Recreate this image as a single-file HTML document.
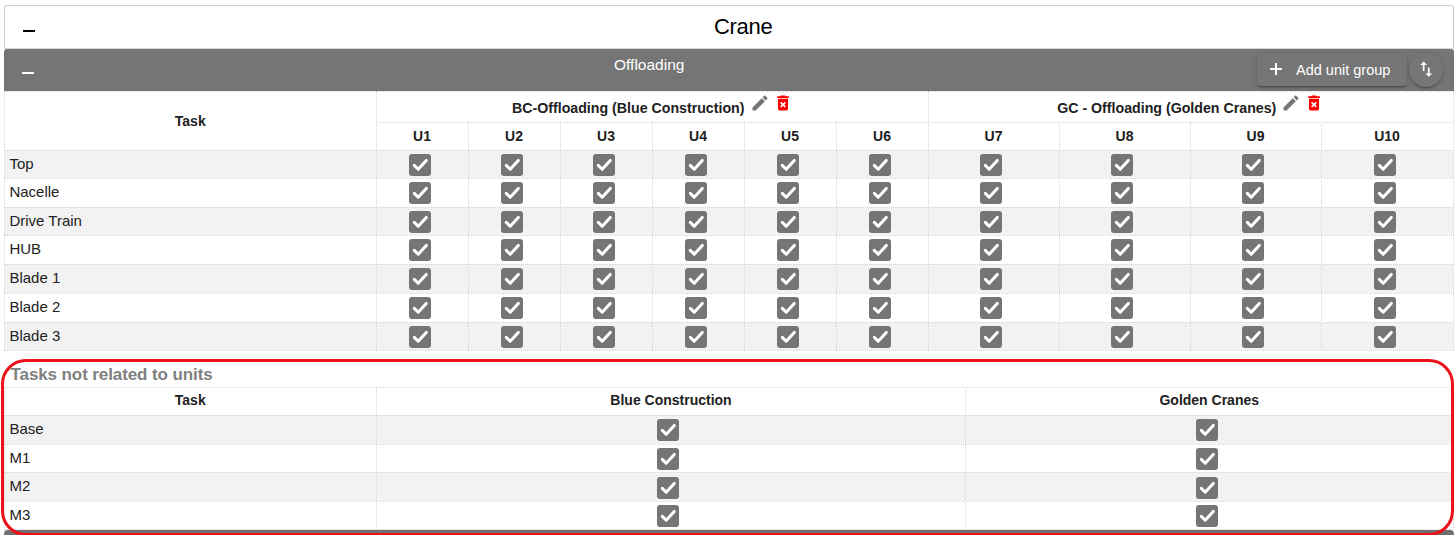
<!DOCTYPE html>
<html><head><meta charset="utf-8"><style>
*{box-sizing:border-box}
html,body{margin:0;padding:0;background:#fff;width:1455px;height:535px;overflow:hidden;position:relative;font-family:"Liberation Sans", sans-serif;color:#212121}
div,svg{position:absolute}
#card{left:4px;top:5px;width:1450px;height:44px;border:1px solid #cfcfcf;border-right-color:#c2c2c2;border-bottom-color:#d8d8d8;border-radius:3px 3px 1.5px 1.5px;background:#fff}
.minus{width:12px;height:2px}
#crane{left:714px;top:11px;font-size:22px;letter-spacing:-0.3px;line-height:32px;white-space:nowrap;color:#000}
#bar{left:4px;top:49px;width:1450px;height:42px;background:#757575;border-radius:3px 3px 0 0}
#offl{left:614px;top:56px;font-size:15.5px;line-height:18px;color:#fff;white-space:nowrap}
#addbtn{left:1257px;top:54px;width:150px;height:32px;border-radius:4px;background:#767676;box-shadow:0 3px 1px -2px rgba(0,0,0,.2),0 2px 2px 0 rgba(0,0,0,.14),0 1px 5px 0 rgba(0,0,0,.12)}
#plus{position:absolute;left:13px;top:9px;width:12px;height:12px;
  background:linear-gradient(#fff,#fff) center/2px 12px no-repeat, linear-gradient(#fff,#fff) center/12px 2px no-repeat}
#addtxt{position:absolute;left:39px;top:7px;font-size:14.5px;line-height:18px;color:#fff;white-space:nowrap}
#swapbtn{left:1409px;top:53px;width:34px;height:34px;border-radius:50%;background:#767676;box-shadow:0 3px 1px -2px rgba(0,0,0,.2),0 2px 2px 0 rgba(0,0,0,.14),0 1px 5px 0 rgba(0,0,0,.12)}
.stripe{left:4px;width:1450px;background:#f2f2f2}
.hl{height:0;border-top:1px dotted #d6d6d6}
.vl{width:0;border-left:1px dotted #d6d6d6}
.th{font-weight:bold;font-size:14px;text-align:center;white-space:nowrap}
.grp{top:92.5px;height:31px;line-height:31px;font-weight:bold;font-size:14.2px;text-align:center;white-space:nowrap}
.grp .ic{position:relative;display:inline-block;vertical-align:top;top:0.5px}
.grp .ic:first-of-type{margin-left:5px}
.grp .ic+.ic{margin-left:3px}
.td{left:9.4px;font-size:15px;line-height:20px;white-space:nowrap}
.cb{position:absolute}
#t2title{left:10.5px;top:362.5px;font-size:17px;letter-spacing:-0.1px;line-height:24px;font-weight:bold;color:#808080;white-space:nowrap}
#bar2{left:4px;top:529.5px;width:1450px;height:10px;background:#707070;border-radius:4px 4px 0 0}
#red{left:1px;top:358.5px;width:1453px;height:177px;border:3px solid #ec111a;border-radius:25px}
</style></head>
<body>
<div id="card"></div><div class="minus" style="left:23px;top:30px;background:#000"></div><div id="crane">Crane</div><div id="bar"></div><div class="minus" style="left:22px;top:72px;background:#fff"></div><div id="offl">Offloading</div><div id="addbtn"><span id="plus"></span><span id="addtxt">Add unit group</span></div><div id="swapbtn"><svg width="20.4" height="20.4" viewBox="0 0 24 24" style="position:absolute;left:7.3px;top:6px"><path fill="#fff" d="M16 17.01V10h-2v7.01h-3L15 21l4-3.99h-3zM9 3L5 6.99h3V14h2V6.99h3L9 3z"/></svg></div><div class="stripe" style="top:150.00px;height:28.00px"></div><div class="stripe" style="top:207.00px;height:28.00px"></div><div class="stripe" style="top:264.00px;height:29.00px"></div><div class="stripe" style="top:322.00px;height:28.00px"></div><div class="hl" style="left:4px;top:91.00px;width:1450px"></div><div class="hl" style="left:376px;top:122.00px;width:1078px"></div><div class="hl" style="left:4px;top:150.00px;width:1450px"></div><div class="hl" style="left:4px;top:178.00px;width:1450px"></div><div class="hl" style="left:4px;top:207.00px;width:1450px"></div><div class="hl" style="left:4px;top:235.00px;width:1450px"></div><div class="hl" style="left:4px;top:264.00px;width:1450px"></div><div class="hl" style="left:4px;top:293.00px;width:1450px"></div><div class="hl" style="left:4px;top:322.00px;width:1450px"></div><div class="hl" style="left:4px;top:350.00px;width:1450px"></div><div class="vl" style="left:4px;top:91.00px;height:260.00px"></div><div class="vl" style="left:376px;top:91.00px;height:260.00px"></div><div class="vl" style="left:468px;top:122.00px;height:229.00px"></div><div class="vl" style="left:560px;top:122.00px;height:229.00px"></div><div class="vl" style="left:652px;top:122.00px;height:229.00px"></div><div class="vl" style="left:744px;top:122.00px;height:229.00px"></div><div class="vl" style="left:836px;top:122.00px;height:229.00px"></div><div class="vl" style="left:928px;top:91.00px;height:260.00px"></div><div class="vl" style="left:1059px;top:122.00px;height:229.00px"></div><div class="vl" style="left:1190px;top:122.00px;height:229.00px"></div><div class="vl" style="left:1321px;top:122.00px;height:229.00px"></div><div class="vl" style="left:1453px;top:91.00px;height:260.00px"></div><div class="th" style="left:4px;width:372.5px;top:91.7px;height:59px;line-height:59px">Task</div><div class="grp" style="left:376.5px;width:551.5px;">BC-Offloading (Blue Construction)<svg class="ic" width="20" height="20" viewBox="0 0 24 24"><path fill="#757575" d="M3 17.25V21h3.75L17.81 9.94l-3.75-3.75L3 17.25zM20.71 7.04c.39-.39.39-1.02 0-1.41l-2.34-2.34c-.39-.39-1.02-.39-1.41 0l-1.83 1.83 3.75 3.75 1.83-1.83z"/></svg><svg class="ic" width="20" height="20" viewBox="0 0 24 24"><path fill="#ff0000" d="M6 19c0 1.1.9 2 2 2h8c1.1 0 2-.9 2-2V7H6v12zm2.46-7.12l1.41-1.41L12 12.59l2.12-2.12 1.41 1.41L13.41 14l2.12 2.12-1.41 1.41L12 15.41l-2.12 2.12-1.41-1.41L10.59 14l-2.13-2.12zM15.5 4l-1-1h-5l-1 1H5v2h14V4z"/></svg></div><div class="grp" style="left:928.5px;width:524.5px;">GC - Offloading (Golden Cranes)<svg class="ic" width="20" height="20" viewBox="0 0 24 24"><path fill="#757575" d="M3 17.25V21h3.75L17.81 9.94l-3.75-3.75L3 17.25zM20.71 7.04c.39-.39.39-1.02 0-1.41l-2.34-2.34c-.39-.39-1.02-.39-1.41 0l-1.83 1.83 3.75 3.75 1.83-1.83z"/></svg><svg class="ic" width="20" height="20" viewBox="0 0 24 24"><path fill="#ff0000" d="M6 19c0 1.1.9 2 2 2h8c1.1 0 2-.9 2-2V7H6v12zm2.46-7.12l1.41-1.41L12 12.59l2.12-2.12 1.41 1.41L13.41 14l2.12 2.12-1.41 1.41L12 15.41l-2.12 2.12-1.41-1.41L10.59 14l-2.13-2.12zM15.5 4l-1-1h-5l-1 1H5v2h14V4z"/></svg></div><div class="th" style="left:376px;width:92px;top:122px;height:28px;line-height:28px">U1</div><div class="th" style="left:468px;width:92px;top:122px;height:28px;line-height:28px">U2</div><div class="th" style="left:560px;width:92px;top:122px;height:28px;line-height:28px">U3</div><div class="th" style="left:652px;width:92px;top:122px;height:28px;line-height:28px">U4</div><div class="th" style="left:744px;width:92px;top:122px;height:28px;line-height:28px">U5</div><div class="th" style="left:836px;width:92px;top:122px;height:28px;line-height:28px">U6</div><div class="th" style="left:928px;width:131px;top:122px;height:28px;line-height:28px">U7</div><div class="th" style="left:1059px;width:131px;top:122px;height:28px;line-height:28px">U8</div><div class="th" style="left:1190px;width:131px;top:122px;height:28px;line-height:28px">U9</div><div class="th" style="left:1321px;width:132px;top:122px;height:28px;line-height:28px">U10</div><div class="td" style="top:154.00px">Top</div><svg class="cb" style="left:408.50px;top:154.00px" width="22" height="22" viewBox="0 0 22 22"><rect x="0" y="0" width="22" height="22" rx="3" fill="#757575"/><polyline points="5.3,11.4 9.2,15.3 17.3,6.4" fill="none" stroke="#fff" stroke-width="3" stroke-linecap="round" stroke-linejoin="round"/></svg><svg class="cb" style="left:500.50px;top:154.00px" width="22" height="22" viewBox="0 0 22 22"><rect x="0" y="0" width="22" height="22" rx="3" fill="#757575"/><polyline points="5.3,11.4 9.2,15.3 17.3,6.4" fill="none" stroke="#fff" stroke-width="3" stroke-linecap="round" stroke-linejoin="round"/></svg><svg class="cb" style="left:592.50px;top:154.00px" width="22" height="22" viewBox="0 0 22 22"><rect x="0" y="0" width="22" height="22" rx="3" fill="#757575"/><polyline points="5.3,11.4 9.2,15.3 17.3,6.4" fill="none" stroke="#fff" stroke-width="3" stroke-linecap="round" stroke-linejoin="round"/></svg><svg class="cb" style="left:684.50px;top:154.00px" width="22" height="22" viewBox="0 0 22 22"><rect x="0" y="0" width="22" height="22" rx="3" fill="#757575"/><polyline points="5.3,11.4 9.2,15.3 17.3,6.4" fill="none" stroke="#fff" stroke-width="3" stroke-linecap="round" stroke-linejoin="round"/></svg><svg class="cb" style="left:776.50px;top:154.00px" width="22" height="22" viewBox="0 0 22 22"><rect x="0" y="0" width="22" height="22" rx="3" fill="#757575"/><polyline points="5.3,11.4 9.2,15.3 17.3,6.4" fill="none" stroke="#fff" stroke-width="3" stroke-linecap="round" stroke-linejoin="round"/></svg><svg class="cb" style="left:868.50px;top:154.00px" width="22" height="22" viewBox="0 0 22 22"><rect x="0" y="0" width="22" height="22" rx="3" fill="#757575"/><polyline points="5.3,11.4 9.2,15.3 17.3,6.4" fill="none" stroke="#fff" stroke-width="3" stroke-linecap="round" stroke-linejoin="round"/></svg><svg class="cb" style="left:980.00px;top:154.00px" width="22" height="22" viewBox="0 0 22 22"><rect x="0" y="0" width="22" height="22" rx="3" fill="#757575"/><polyline points="5.3,11.4 9.2,15.3 17.3,6.4" fill="none" stroke="#fff" stroke-width="3" stroke-linecap="round" stroke-linejoin="round"/></svg><svg class="cb" style="left:1111.00px;top:154.00px" width="22" height="22" viewBox="0 0 22 22"><rect x="0" y="0" width="22" height="22" rx="3" fill="#757575"/><polyline points="5.3,11.4 9.2,15.3 17.3,6.4" fill="none" stroke="#fff" stroke-width="3" stroke-linecap="round" stroke-linejoin="round"/></svg><svg class="cb" style="left:1242.00px;top:154.00px" width="22" height="22" viewBox="0 0 22 22"><rect x="0" y="0" width="22" height="22" rx="3" fill="#757575"/><polyline points="5.3,11.4 9.2,15.3 17.3,6.4" fill="none" stroke="#fff" stroke-width="3" stroke-linecap="round" stroke-linejoin="round"/></svg><svg class="cb" style="left:1373.50px;top:154.00px" width="22" height="22" viewBox="0 0 22 22"><rect x="0" y="0" width="22" height="22" rx="3" fill="#757575"/><polyline points="5.3,11.4 9.2,15.3 17.3,6.4" fill="none" stroke="#fff" stroke-width="3" stroke-linecap="round" stroke-linejoin="round"/></svg><div class="td" style="top:182.00px">Nacelle</div><svg class="cb" style="left:408.50px;top:182.00px" width="22" height="22" viewBox="0 0 22 22"><rect x="0" y="0" width="22" height="22" rx="3" fill="#757575"/><polyline points="5.3,11.4 9.2,15.3 17.3,6.4" fill="none" stroke="#fff" stroke-width="3" stroke-linecap="round" stroke-linejoin="round"/></svg><svg class="cb" style="left:500.50px;top:182.00px" width="22" height="22" viewBox="0 0 22 22"><rect x="0" y="0" width="22" height="22" rx="3" fill="#757575"/><polyline points="5.3,11.4 9.2,15.3 17.3,6.4" fill="none" stroke="#fff" stroke-width="3" stroke-linecap="round" stroke-linejoin="round"/></svg><svg class="cb" style="left:592.50px;top:182.00px" width="22" height="22" viewBox="0 0 22 22"><rect x="0" y="0" width="22" height="22" rx="3" fill="#757575"/><polyline points="5.3,11.4 9.2,15.3 17.3,6.4" fill="none" stroke="#fff" stroke-width="3" stroke-linecap="round" stroke-linejoin="round"/></svg><svg class="cb" style="left:684.50px;top:182.00px" width="22" height="22" viewBox="0 0 22 22"><rect x="0" y="0" width="22" height="22" rx="3" fill="#757575"/><polyline points="5.3,11.4 9.2,15.3 17.3,6.4" fill="none" stroke="#fff" stroke-width="3" stroke-linecap="round" stroke-linejoin="round"/></svg><svg class="cb" style="left:776.50px;top:182.00px" width="22" height="22" viewBox="0 0 22 22"><rect x="0" y="0" width="22" height="22" rx="3" fill="#757575"/><polyline points="5.3,11.4 9.2,15.3 17.3,6.4" fill="none" stroke="#fff" stroke-width="3" stroke-linecap="round" stroke-linejoin="round"/></svg><svg class="cb" style="left:868.50px;top:182.00px" width="22" height="22" viewBox="0 0 22 22"><rect x="0" y="0" width="22" height="22" rx="3" fill="#757575"/><polyline points="5.3,11.4 9.2,15.3 17.3,6.4" fill="none" stroke="#fff" stroke-width="3" stroke-linecap="round" stroke-linejoin="round"/></svg><svg class="cb" style="left:980.00px;top:182.00px" width="22" height="22" viewBox="0 0 22 22"><rect x="0" y="0" width="22" height="22" rx="3" fill="#757575"/><polyline points="5.3,11.4 9.2,15.3 17.3,6.4" fill="none" stroke="#fff" stroke-width="3" stroke-linecap="round" stroke-linejoin="round"/></svg><svg class="cb" style="left:1111.00px;top:182.00px" width="22" height="22" viewBox="0 0 22 22"><rect x="0" y="0" width="22" height="22" rx="3" fill="#757575"/><polyline points="5.3,11.4 9.2,15.3 17.3,6.4" fill="none" stroke="#fff" stroke-width="3" stroke-linecap="round" stroke-linejoin="round"/></svg><svg class="cb" style="left:1242.00px;top:182.00px" width="22" height="22" viewBox="0 0 22 22"><rect x="0" y="0" width="22" height="22" rx="3" fill="#757575"/><polyline points="5.3,11.4 9.2,15.3 17.3,6.4" fill="none" stroke="#fff" stroke-width="3" stroke-linecap="round" stroke-linejoin="round"/></svg><svg class="cb" style="left:1373.50px;top:182.00px" width="22" height="22" viewBox="0 0 22 22"><rect x="0" y="0" width="22" height="22" rx="3" fill="#757575"/><polyline points="5.3,11.4 9.2,15.3 17.3,6.4" fill="none" stroke="#fff" stroke-width="3" stroke-linecap="round" stroke-linejoin="round"/></svg><div class="td" style="top:211.00px">Drive Train</div><svg class="cb" style="left:408.50px;top:211.00px" width="22" height="22" viewBox="0 0 22 22"><rect x="0" y="0" width="22" height="22" rx="3" fill="#757575"/><polyline points="5.3,11.4 9.2,15.3 17.3,6.4" fill="none" stroke="#fff" stroke-width="3" stroke-linecap="round" stroke-linejoin="round"/></svg><svg class="cb" style="left:500.50px;top:211.00px" width="22" height="22" viewBox="0 0 22 22"><rect x="0" y="0" width="22" height="22" rx="3" fill="#757575"/><polyline points="5.3,11.4 9.2,15.3 17.3,6.4" fill="none" stroke="#fff" stroke-width="3" stroke-linecap="round" stroke-linejoin="round"/></svg><svg class="cb" style="left:592.50px;top:211.00px" width="22" height="22" viewBox="0 0 22 22"><rect x="0" y="0" width="22" height="22" rx="3" fill="#757575"/><polyline points="5.3,11.4 9.2,15.3 17.3,6.4" fill="none" stroke="#fff" stroke-width="3" stroke-linecap="round" stroke-linejoin="round"/></svg><svg class="cb" style="left:684.50px;top:211.00px" width="22" height="22" viewBox="0 0 22 22"><rect x="0" y="0" width="22" height="22" rx="3" fill="#757575"/><polyline points="5.3,11.4 9.2,15.3 17.3,6.4" fill="none" stroke="#fff" stroke-width="3" stroke-linecap="round" stroke-linejoin="round"/></svg><svg class="cb" style="left:776.50px;top:211.00px" width="22" height="22" viewBox="0 0 22 22"><rect x="0" y="0" width="22" height="22" rx="3" fill="#757575"/><polyline points="5.3,11.4 9.2,15.3 17.3,6.4" fill="none" stroke="#fff" stroke-width="3" stroke-linecap="round" stroke-linejoin="round"/></svg><svg class="cb" style="left:868.50px;top:211.00px" width="22" height="22" viewBox="0 0 22 22"><rect x="0" y="0" width="22" height="22" rx="3" fill="#757575"/><polyline points="5.3,11.4 9.2,15.3 17.3,6.4" fill="none" stroke="#fff" stroke-width="3" stroke-linecap="round" stroke-linejoin="round"/></svg><svg class="cb" style="left:980.00px;top:211.00px" width="22" height="22" viewBox="0 0 22 22"><rect x="0" y="0" width="22" height="22" rx="3" fill="#757575"/><polyline points="5.3,11.4 9.2,15.3 17.3,6.4" fill="none" stroke="#fff" stroke-width="3" stroke-linecap="round" stroke-linejoin="round"/></svg><svg class="cb" style="left:1111.00px;top:211.00px" width="22" height="22" viewBox="0 0 22 22"><rect x="0" y="0" width="22" height="22" rx="3" fill="#757575"/><polyline points="5.3,11.4 9.2,15.3 17.3,6.4" fill="none" stroke="#fff" stroke-width="3" stroke-linecap="round" stroke-linejoin="round"/></svg><svg class="cb" style="left:1242.00px;top:211.00px" width="22" height="22" viewBox="0 0 22 22"><rect x="0" y="0" width="22" height="22" rx="3" fill="#757575"/><polyline points="5.3,11.4 9.2,15.3 17.3,6.4" fill="none" stroke="#fff" stroke-width="3" stroke-linecap="round" stroke-linejoin="round"/></svg><svg class="cb" style="left:1373.50px;top:211.00px" width="22" height="22" viewBox="0 0 22 22"><rect x="0" y="0" width="22" height="22" rx="3" fill="#757575"/><polyline points="5.3,11.4 9.2,15.3 17.3,6.4" fill="none" stroke="#fff" stroke-width="3" stroke-linecap="round" stroke-linejoin="round"/></svg><div class="td" style="top:239.00px">HUB</div><svg class="cb" style="left:408.50px;top:239.00px" width="22" height="22" viewBox="0 0 22 22"><rect x="0" y="0" width="22" height="22" rx="3" fill="#757575"/><polyline points="5.3,11.4 9.2,15.3 17.3,6.4" fill="none" stroke="#fff" stroke-width="3" stroke-linecap="round" stroke-linejoin="round"/></svg><svg class="cb" style="left:500.50px;top:239.00px" width="22" height="22" viewBox="0 0 22 22"><rect x="0" y="0" width="22" height="22" rx="3" fill="#757575"/><polyline points="5.3,11.4 9.2,15.3 17.3,6.4" fill="none" stroke="#fff" stroke-width="3" stroke-linecap="round" stroke-linejoin="round"/></svg><svg class="cb" style="left:592.50px;top:239.00px" width="22" height="22" viewBox="0 0 22 22"><rect x="0" y="0" width="22" height="22" rx="3" fill="#757575"/><polyline points="5.3,11.4 9.2,15.3 17.3,6.4" fill="none" stroke="#fff" stroke-width="3" stroke-linecap="round" stroke-linejoin="round"/></svg><svg class="cb" style="left:684.50px;top:239.00px" width="22" height="22" viewBox="0 0 22 22"><rect x="0" y="0" width="22" height="22" rx="3" fill="#757575"/><polyline points="5.3,11.4 9.2,15.3 17.3,6.4" fill="none" stroke="#fff" stroke-width="3" stroke-linecap="round" stroke-linejoin="round"/></svg><svg class="cb" style="left:776.50px;top:239.00px" width="22" height="22" viewBox="0 0 22 22"><rect x="0" y="0" width="22" height="22" rx="3" fill="#757575"/><polyline points="5.3,11.4 9.2,15.3 17.3,6.4" fill="none" stroke="#fff" stroke-width="3" stroke-linecap="round" stroke-linejoin="round"/></svg><svg class="cb" style="left:868.50px;top:239.00px" width="22" height="22" viewBox="0 0 22 22"><rect x="0" y="0" width="22" height="22" rx="3" fill="#757575"/><polyline points="5.3,11.4 9.2,15.3 17.3,6.4" fill="none" stroke="#fff" stroke-width="3" stroke-linecap="round" stroke-linejoin="round"/></svg><svg class="cb" style="left:980.00px;top:239.00px" width="22" height="22" viewBox="0 0 22 22"><rect x="0" y="0" width="22" height="22" rx="3" fill="#757575"/><polyline points="5.3,11.4 9.2,15.3 17.3,6.4" fill="none" stroke="#fff" stroke-width="3" stroke-linecap="round" stroke-linejoin="round"/></svg><svg class="cb" style="left:1111.00px;top:239.00px" width="22" height="22" viewBox="0 0 22 22"><rect x="0" y="0" width="22" height="22" rx="3" fill="#757575"/><polyline points="5.3,11.4 9.2,15.3 17.3,6.4" fill="none" stroke="#fff" stroke-width="3" stroke-linecap="round" stroke-linejoin="round"/></svg><svg class="cb" style="left:1242.00px;top:239.00px" width="22" height="22" viewBox="0 0 22 22"><rect x="0" y="0" width="22" height="22" rx="3" fill="#757575"/><polyline points="5.3,11.4 9.2,15.3 17.3,6.4" fill="none" stroke="#fff" stroke-width="3" stroke-linecap="round" stroke-linejoin="round"/></svg><svg class="cb" style="left:1373.50px;top:239.00px" width="22" height="22" viewBox="0 0 22 22"><rect x="0" y="0" width="22" height="22" rx="3" fill="#757575"/><polyline points="5.3,11.4 9.2,15.3 17.3,6.4" fill="none" stroke="#fff" stroke-width="3" stroke-linecap="round" stroke-linejoin="round"/></svg><div class="td" style="top:268.00px">Blade 1</div><svg class="cb" style="left:408.50px;top:268.00px" width="22" height="22" viewBox="0 0 22 22"><rect x="0" y="0" width="22" height="22" rx="3" fill="#757575"/><polyline points="5.3,11.4 9.2,15.3 17.3,6.4" fill="none" stroke="#fff" stroke-width="3" stroke-linecap="round" stroke-linejoin="round"/></svg><svg class="cb" style="left:500.50px;top:268.00px" width="22" height="22" viewBox="0 0 22 22"><rect x="0" y="0" width="22" height="22" rx="3" fill="#757575"/><polyline points="5.3,11.4 9.2,15.3 17.3,6.4" fill="none" stroke="#fff" stroke-width="3" stroke-linecap="round" stroke-linejoin="round"/></svg><svg class="cb" style="left:592.50px;top:268.00px" width="22" height="22" viewBox="0 0 22 22"><rect x="0" y="0" width="22" height="22" rx="3" fill="#757575"/><polyline points="5.3,11.4 9.2,15.3 17.3,6.4" fill="none" stroke="#fff" stroke-width="3" stroke-linecap="round" stroke-linejoin="round"/></svg><svg class="cb" style="left:684.50px;top:268.00px" width="22" height="22" viewBox="0 0 22 22"><rect x="0" y="0" width="22" height="22" rx="3" fill="#757575"/><polyline points="5.3,11.4 9.2,15.3 17.3,6.4" fill="none" stroke="#fff" stroke-width="3" stroke-linecap="round" stroke-linejoin="round"/></svg><svg class="cb" style="left:776.50px;top:268.00px" width="22" height="22" viewBox="0 0 22 22"><rect x="0" y="0" width="22" height="22" rx="3" fill="#757575"/><polyline points="5.3,11.4 9.2,15.3 17.3,6.4" fill="none" stroke="#fff" stroke-width="3" stroke-linecap="round" stroke-linejoin="round"/></svg><svg class="cb" style="left:868.50px;top:268.00px" width="22" height="22" viewBox="0 0 22 22"><rect x="0" y="0" width="22" height="22" rx="3" fill="#757575"/><polyline points="5.3,11.4 9.2,15.3 17.3,6.4" fill="none" stroke="#fff" stroke-width="3" stroke-linecap="round" stroke-linejoin="round"/></svg><svg class="cb" style="left:980.00px;top:268.00px" width="22" height="22" viewBox="0 0 22 22"><rect x="0" y="0" width="22" height="22" rx="3" fill="#757575"/><polyline points="5.3,11.4 9.2,15.3 17.3,6.4" fill="none" stroke="#fff" stroke-width="3" stroke-linecap="round" stroke-linejoin="round"/></svg><svg class="cb" style="left:1111.00px;top:268.00px" width="22" height="22" viewBox="0 0 22 22"><rect x="0" y="0" width="22" height="22" rx="3" fill="#757575"/><polyline points="5.3,11.4 9.2,15.3 17.3,6.4" fill="none" stroke="#fff" stroke-width="3" stroke-linecap="round" stroke-linejoin="round"/></svg><svg class="cb" style="left:1242.00px;top:268.00px" width="22" height="22" viewBox="0 0 22 22"><rect x="0" y="0" width="22" height="22" rx="3" fill="#757575"/><polyline points="5.3,11.4 9.2,15.3 17.3,6.4" fill="none" stroke="#fff" stroke-width="3" stroke-linecap="round" stroke-linejoin="round"/></svg><svg class="cb" style="left:1373.50px;top:268.00px" width="22" height="22" viewBox="0 0 22 22"><rect x="0" y="0" width="22" height="22" rx="3" fill="#757575"/><polyline points="5.3,11.4 9.2,15.3 17.3,6.4" fill="none" stroke="#fff" stroke-width="3" stroke-linecap="round" stroke-linejoin="round"/></svg><div class="td" style="top:297.00px">Blade 2</div><svg class="cb" style="left:408.50px;top:297.00px" width="22" height="22" viewBox="0 0 22 22"><rect x="0" y="0" width="22" height="22" rx="3" fill="#757575"/><polyline points="5.3,11.4 9.2,15.3 17.3,6.4" fill="none" stroke="#fff" stroke-width="3" stroke-linecap="round" stroke-linejoin="round"/></svg><svg class="cb" style="left:500.50px;top:297.00px" width="22" height="22" viewBox="0 0 22 22"><rect x="0" y="0" width="22" height="22" rx="3" fill="#757575"/><polyline points="5.3,11.4 9.2,15.3 17.3,6.4" fill="none" stroke="#fff" stroke-width="3" stroke-linecap="round" stroke-linejoin="round"/></svg><svg class="cb" style="left:592.50px;top:297.00px" width="22" height="22" viewBox="0 0 22 22"><rect x="0" y="0" width="22" height="22" rx="3" fill="#757575"/><polyline points="5.3,11.4 9.2,15.3 17.3,6.4" fill="none" stroke="#fff" stroke-width="3" stroke-linecap="round" stroke-linejoin="round"/></svg><svg class="cb" style="left:684.50px;top:297.00px" width="22" height="22" viewBox="0 0 22 22"><rect x="0" y="0" width="22" height="22" rx="3" fill="#757575"/><polyline points="5.3,11.4 9.2,15.3 17.3,6.4" fill="none" stroke="#fff" stroke-width="3" stroke-linecap="round" stroke-linejoin="round"/></svg><svg class="cb" style="left:776.50px;top:297.00px" width="22" height="22" viewBox="0 0 22 22"><rect x="0" y="0" width="22" height="22" rx="3" fill="#757575"/><polyline points="5.3,11.4 9.2,15.3 17.3,6.4" fill="none" stroke="#fff" stroke-width="3" stroke-linecap="round" stroke-linejoin="round"/></svg><svg class="cb" style="left:868.50px;top:297.00px" width="22" height="22" viewBox="0 0 22 22"><rect x="0" y="0" width="22" height="22" rx="3" fill="#757575"/><polyline points="5.3,11.4 9.2,15.3 17.3,6.4" fill="none" stroke="#fff" stroke-width="3" stroke-linecap="round" stroke-linejoin="round"/></svg><svg class="cb" style="left:980.00px;top:297.00px" width="22" height="22" viewBox="0 0 22 22"><rect x="0" y="0" width="22" height="22" rx="3" fill="#757575"/><polyline points="5.3,11.4 9.2,15.3 17.3,6.4" fill="none" stroke="#fff" stroke-width="3" stroke-linecap="round" stroke-linejoin="round"/></svg><svg class="cb" style="left:1111.00px;top:297.00px" width="22" height="22" viewBox="0 0 22 22"><rect x="0" y="0" width="22" height="22" rx="3" fill="#757575"/><polyline points="5.3,11.4 9.2,15.3 17.3,6.4" fill="none" stroke="#fff" stroke-width="3" stroke-linecap="round" stroke-linejoin="round"/></svg><svg class="cb" style="left:1242.00px;top:297.00px" width="22" height="22" viewBox="0 0 22 22"><rect x="0" y="0" width="22" height="22" rx="3" fill="#757575"/><polyline points="5.3,11.4 9.2,15.3 17.3,6.4" fill="none" stroke="#fff" stroke-width="3" stroke-linecap="round" stroke-linejoin="round"/></svg><svg class="cb" style="left:1373.50px;top:297.00px" width="22" height="22" viewBox="0 0 22 22"><rect x="0" y="0" width="22" height="22" rx="3" fill="#757575"/><polyline points="5.3,11.4 9.2,15.3 17.3,6.4" fill="none" stroke="#fff" stroke-width="3" stroke-linecap="round" stroke-linejoin="round"/></svg><div class="td" style="top:326.00px">Blade 3</div><svg class="cb" style="left:408.50px;top:326.00px" width="22" height="22" viewBox="0 0 22 22"><rect x="0" y="0" width="22" height="22" rx="3" fill="#757575"/><polyline points="5.3,11.4 9.2,15.3 17.3,6.4" fill="none" stroke="#fff" stroke-width="3" stroke-linecap="round" stroke-linejoin="round"/></svg><svg class="cb" style="left:500.50px;top:326.00px" width="22" height="22" viewBox="0 0 22 22"><rect x="0" y="0" width="22" height="22" rx="3" fill="#757575"/><polyline points="5.3,11.4 9.2,15.3 17.3,6.4" fill="none" stroke="#fff" stroke-width="3" stroke-linecap="round" stroke-linejoin="round"/></svg><svg class="cb" style="left:592.50px;top:326.00px" width="22" height="22" viewBox="0 0 22 22"><rect x="0" y="0" width="22" height="22" rx="3" fill="#757575"/><polyline points="5.3,11.4 9.2,15.3 17.3,6.4" fill="none" stroke="#fff" stroke-width="3" stroke-linecap="round" stroke-linejoin="round"/></svg><svg class="cb" style="left:684.50px;top:326.00px" width="22" height="22" viewBox="0 0 22 22"><rect x="0" y="0" width="22" height="22" rx="3" fill="#757575"/><polyline points="5.3,11.4 9.2,15.3 17.3,6.4" fill="none" stroke="#fff" stroke-width="3" stroke-linecap="round" stroke-linejoin="round"/></svg><svg class="cb" style="left:776.50px;top:326.00px" width="22" height="22" viewBox="0 0 22 22"><rect x="0" y="0" width="22" height="22" rx="3" fill="#757575"/><polyline points="5.3,11.4 9.2,15.3 17.3,6.4" fill="none" stroke="#fff" stroke-width="3" stroke-linecap="round" stroke-linejoin="round"/></svg><svg class="cb" style="left:868.50px;top:326.00px" width="22" height="22" viewBox="0 0 22 22"><rect x="0" y="0" width="22" height="22" rx="3" fill="#757575"/><polyline points="5.3,11.4 9.2,15.3 17.3,6.4" fill="none" stroke="#fff" stroke-width="3" stroke-linecap="round" stroke-linejoin="round"/></svg><svg class="cb" style="left:980.00px;top:326.00px" width="22" height="22" viewBox="0 0 22 22"><rect x="0" y="0" width="22" height="22" rx="3" fill="#757575"/><polyline points="5.3,11.4 9.2,15.3 17.3,6.4" fill="none" stroke="#fff" stroke-width="3" stroke-linecap="round" stroke-linejoin="round"/></svg><svg class="cb" style="left:1111.00px;top:326.00px" width="22" height="22" viewBox="0 0 22 22"><rect x="0" y="0" width="22" height="22" rx="3" fill="#757575"/><polyline points="5.3,11.4 9.2,15.3 17.3,6.4" fill="none" stroke="#fff" stroke-width="3" stroke-linecap="round" stroke-linejoin="round"/></svg><svg class="cb" style="left:1242.00px;top:326.00px" width="22" height="22" viewBox="0 0 22 22"><rect x="0" y="0" width="22" height="22" rx="3" fill="#757575"/><polyline points="5.3,11.4 9.2,15.3 17.3,6.4" fill="none" stroke="#fff" stroke-width="3" stroke-linecap="round" stroke-linejoin="round"/></svg><svg class="cb" style="left:1373.50px;top:326.00px" width="22" height="22" viewBox="0 0 22 22"><rect x="0" y="0" width="22" height="22" rx="3" fill="#757575"/><polyline points="5.3,11.4 9.2,15.3 17.3,6.4" fill="none" stroke="#fff" stroke-width="3" stroke-linecap="round" stroke-linejoin="round"/></svg><div id="t2title">Tasks not related to units</div><div class="stripe" style="top:414.50px;height:29.00px"></div><div class="stripe" style="top:472.00px;height:28.50px"></div><div class="hl" style="left:4px;top:387.00px;width:1450px"></div><div class="hl" style="left:4px;top:414.50px;width:1450px"></div><div class="hl" style="left:4px;top:443.50px;width:1450px"></div><div class="hl" style="left:4px;top:472.00px;width:1450px"></div><div class="hl" style="left:4px;top:500.50px;width:1450px"></div><div class="hl" style="left:4px;top:529.00px;width:1450px"></div><div class="vl" style="left:4px;top:387.00px;height:143.00px"></div><div class="vl" style="left:376px;top:387.00px;height:143.00px"></div><div class="vl" style="left:965px;top:387.00px;height:143.00px"></div><div class="vl" style="left:1453px;top:387.00px;height:143.00px"></div><div class="th" style="left:4px;width:372.5px;top:387px;height:27.5px;line-height:27.5px">Task</div><div class="th" style="left:376.5px;width:589px;top:387px;height:27.5px;line-height:27.5px">Blue Construction</div><div class="th" style="left:965.5px;width:487.5px;top:387px;height:27.5px;line-height:27.5px">Golden Cranes</div><div class="td" style="top:418.50px">Base</div><svg class="cb" style="left:657.00px;top:419.00px" width="22" height="22" viewBox="0 0 22 22"><rect x="0" y="0" width="22" height="22" rx="3" fill="#757575"/><polyline points="5.3,11.4 9.2,15.3 17.3,6.4" fill="none" stroke="#fff" stroke-width="3" stroke-linecap="round" stroke-linejoin="round"/></svg><svg class="cb" style="left:1195.50px;top:419.00px" width="22" height="22" viewBox="0 0 22 22"><rect x="0" y="0" width="22" height="22" rx="3" fill="#757575"/><polyline points="5.3,11.4 9.2,15.3 17.3,6.4" fill="none" stroke="#fff" stroke-width="3" stroke-linecap="round" stroke-linejoin="round"/></svg><div class="td" style="top:447.50px">M1</div><svg class="cb" style="left:657.00px;top:448.00px" width="22" height="22" viewBox="0 0 22 22"><rect x="0" y="0" width="22" height="22" rx="3" fill="#757575"/><polyline points="5.3,11.4 9.2,15.3 17.3,6.4" fill="none" stroke="#fff" stroke-width="3" stroke-linecap="round" stroke-linejoin="round"/></svg><svg class="cb" style="left:1195.50px;top:448.00px" width="22" height="22" viewBox="0 0 22 22"><rect x="0" y="0" width="22" height="22" rx="3" fill="#757575"/><polyline points="5.3,11.4 9.2,15.3 17.3,6.4" fill="none" stroke="#fff" stroke-width="3" stroke-linecap="round" stroke-linejoin="round"/></svg><div class="td" style="top:476.00px">M2</div><svg class="cb" style="left:657.00px;top:476.50px" width="22" height="22" viewBox="0 0 22 22"><rect x="0" y="0" width="22" height="22" rx="3" fill="#757575"/><polyline points="5.3,11.4 9.2,15.3 17.3,6.4" fill="none" stroke="#fff" stroke-width="3" stroke-linecap="round" stroke-linejoin="round"/></svg><svg class="cb" style="left:1195.50px;top:476.50px" width="22" height="22" viewBox="0 0 22 22"><rect x="0" y="0" width="22" height="22" rx="3" fill="#757575"/><polyline points="5.3,11.4 9.2,15.3 17.3,6.4" fill="none" stroke="#fff" stroke-width="3" stroke-linecap="round" stroke-linejoin="round"/></svg><div class="td" style="top:504.50px">M3</div><svg class="cb" style="left:657.00px;top:505.00px" width="22" height="22" viewBox="0 0 22 22"><rect x="0" y="0" width="22" height="22" rx="3" fill="#757575"/><polyline points="5.3,11.4 9.2,15.3 17.3,6.4" fill="none" stroke="#fff" stroke-width="3" stroke-linecap="round" stroke-linejoin="round"/></svg><svg class="cb" style="left:1195.50px;top:505.00px" width="22" height="22" viewBox="0 0 22 22"><rect x="0" y="0" width="22" height="22" rx="3" fill="#757575"/><polyline points="5.3,11.4 9.2,15.3 17.3,6.4" fill="none" stroke="#fff" stroke-width="3" stroke-linecap="round" stroke-linejoin="round"/></svg><div id="bar2"></div><div id="red"></div>
</body></html>
